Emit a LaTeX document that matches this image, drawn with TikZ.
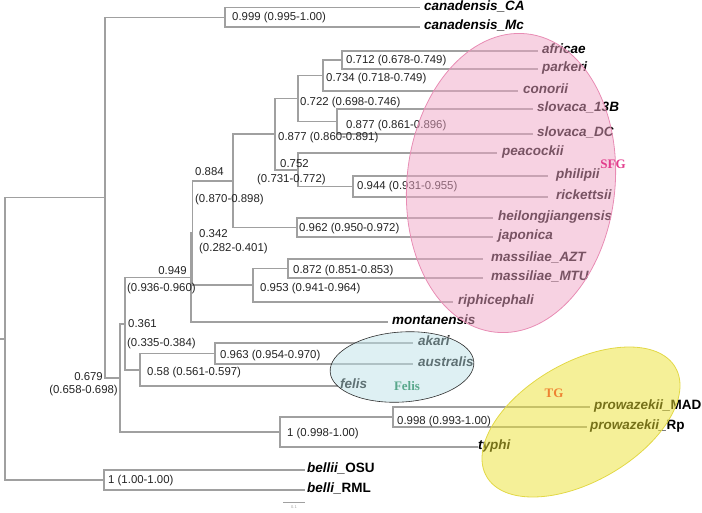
\documentclass[tikz,border=0pt]{standalone}
\usepackage{fontspec}
\setmainfont{Liberation Sans}
\newfontfamily\groupfont{Liberation Serif}
\usetikzlibrary{positioning,shapes.geometric}
\definecolor{BranchGray}{RGB}{160,160,160}
\definecolor{LabelInk}{RGB}{35,35,35}
\definecolor{SFGPink}{RGB}{240,166,198}
\definecolor{SFGEdge}{RGB}{232,140,180}
\definecolor{SFGText}{RGB}{226,60,140}
\definecolor{FelisCyan}{RGB}{190,226,232}
\definecolor{FelisEdge}{RGB}{45,45,45}
\definecolor{FelisText}{RGB}{90,168,140}
\definecolor{TGYellow}{RGB}{236,226,50}
\definecolor{TGEdge}{RGB}{226,216,70}
\definecolor{TGText}{RGB}{238,130,50}
\tikzset{
  branch/.style={draw=BranchGray,line width=1.2pt},
  leaf/.style={anchor=west,inner sep=0pt,text height=0.72em,text depth=0.16em,
    font=\fontsize{13.5}{14}\selectfont\bfseries\itshape,text=black},
  support/.style={anchor=west,inner sep=0pt,text height=0.72em,text depth=0.2em,
    font=\fontsize{11.4}{12}\selectfont,text=LabelInk},
  group/.style={ellipse,inner sep=0pt,fill opacity=0.5,line width=0.8pt},
  grouplabel/.style={font=\groupfont\fontsize{13}{14}\selectfont\bfseries,inner sep=0pt}
}

\begin{document}
\begin{tikzpicture}[x=1pt,y=-1pt]
  \useasboundingbox (0,0) rectangle (702,512);

  \coordinate (CA) at (420,7.5);
  \coordinate (Mc) at (420,27);
  \coordinate (afr) at (538,51);
  \coordinate (par) at (538,69);
  \coordinate (con) at (518,91);
  \coordinate (s13) at (533,109);
  \coordinate (sDC) at (533,134);
  \coordinate (pea) at (497,153);
  \coordinate (phi) at (548,176);
  \coordinate (ric) at (548,197);
  \coordinate (hei) at (493,218);
  \coordinate (jap) at (493,237);
  \coordinate (mAZT) at (483,259);
  \coordinate (mMTU) at (483,278);
  \coordinate (rip) at (453,302);
  \coordinate (mon) at (388,322);
  \coordinate (aka) at (413,343);
  \coordinate (aus) at (413,364);
  \coordinate (fel) at (338,386);
  \coordinate (pMAD) at (590,407);
  \coordinate (pRp) at (587,427);
  \coordinate (typ) at (478,447);
  \coordinate (bOSU) at (305,470);
  \coordinate (bRML) at (305,490);

  \coordinate (nCan) at (225,17.25);
  \coordinate (nAfr) at (342,60);
  \coordinate (nCon) at (323,75.5);
  \coordinate (nSlo) at (337,121.5);
  \coordinate (n722) at (298,98.5);
  \coordinate (nPhi) at (353,186.5);
  \coordinate (nPea) at (298,170);
  \coordinate (n877) at (275,134);
  \coordinate (nHei) at (297,227.5);
  \coordinate (n884) at (233,181);
  \coordinate (nMas) at (288,268.5);
  \coordinate (nRip) at (253,285);
  \coordinate (nP) at (192.5,233);
  \coordinate (nQ) at (191,277.5);
  \coordinate (nAka) at (215,353.5);
  \coordinate (nFel) at (140,370);
  \coordinate (n361) at (125,324);
  \coordinate (nPro) at (393,417);
  \coordinate (nTyp) at (280,432);
  \coordinate (n679) at (120,378);
  \coordinate (nA) at (105,197.5);
  \coordinate (nBel) at (104,480);
  \coordinate (root) at (5,339);
  \coordinate (stub) at (0,339);

  \draw[branch] (stub) -- (root) (root) |- (nA) (root) |- (nBel);
  \draw[branch] (nA) |- (nCan) (nA) |- (n679);
  \draw[branch] (nCan) |- (CA) (nCan) |- (Mc);
  \draw[branch] (n679) |- (n361) (n679) |- (nTyp);
  \draw[branch] (n361) |- (nQ) (n361) |- (nFel);
  \draw[branch] (nQ) |- (nP) (nQ) |- (mon);
  \draw[branch] (nP) |- (n884) (nP) |- (nRip);
  \draw[branch] (n884) |- (n877) (n884) |- (nHei);
  \draw[branch] (n877) |- (n722) (n877) |- (nPea);
  \draw[branch] (n722) |- (nCon) (n722) |- (nSlo);
  \draw[branch] (nCon) |- (nAfr) (nCon) |- (con);
  \draw[branch] (nAfr) |- (afr) (nAfr) |- (par);
  \draw[branch] (nSlo) |- (s13) (nSlo) |- (sDC);
  \draw[branch] (nPea) |- (pea) (nPea) |- (nPhi);
  \draw[branch] (nPhi) |- (phi) (nPhi) |- (ric);
  \draw[branch] (nHei) |- (hei) (nHei) |- (jap);
  \draw[branch] (nRip) |- (nMas) (nRip) |- (rip);
  \draw[branch] (nMas) |- (mAZT) (nMas) |- (mMTU);
  \draw[branch] (nFel) |- (nAka) (nFel) |- (fel);
  \draw[branch] (nAka) |- (aka) (nAka) |- (aus);
  \draw[branch] (nTyp) |- (nPro) (nTyp) |- (typ);
  \draw[branch] (nPro) |- (pMAD) (nPro) |- (pRp);
  \draw[branch] (nBel) |- (bOSU) (nBel) |- (bRML);

  \node[leaf,right=4pt of CA] (CAL) {canadensis\_CA};
  \node[leaf,right=4pt of Mc] (McL) {canadensis\_Mc};
  \node[leaf,right=4pt of afr] (afrL) {africae};
  \node[leaf,right=4pt of par] (parL) {parkeri};
  \node[leaf,right=5pt of con] (conL) {conorii};
  \node[leaf,right=4pt of s13] (s13L) {slovaca\_13B};
  \node[leaf,right=4pt of sDC] (sDCL) {slovaca\_DC};
  \node[leaf,right=5pt of pea] (peaL) {peacockii};
  \node[leaf,right=8pt of phi] (phiL) {philipii};
  \node[leaf,right=8pt of ric] (ricL) {rickettsii};
  \node[leaf,right=5pt of hei] (heiL) {heilongjiangensis};
  \node[leaf,right=5pt of jap] (japL) {japonica};
  \node[leaf,right=8pt of mAZT] (mAZTL) {massiliae\_AZT};
  \node[leaf,right=8pt of mMTU] (mMTUL) {massiliae\_MTU};
  \node[leaf,right=5pt of rip] (ripL) {riphicephali};
  \node[leaf,right=4pt of mon] (monL) {montanensis};
  \node[leaf,right=5pt of aka] (akaL) {akari};
  \node[leaf,right=5pt of aus] (ausL) {australis};
  \node[leaf,right=2pt of fel] (felL) {felis};
  \node[leaf,right=4pt of pMAD] (pMADL) {prowazekii\_\textup{MAD}};
  \node[leaf,right=3pt of pRp] (pRpL) {prowazekii\_\textup{Rp}};
  \node[leaf,right=0pt of typ] (typL) {typhi};
  \node[leaf,right=2pt of bOSU] (bOSUL) {bellii\_\textup{OSU}};
  \node[leaf,right=2pt of bRML] (bRMLL) {belli\_\textup{RML}};

  \node[support] (sCan) at (232,18) {0.999 (0.995-1.00)};
  \node[support] (sAfr) at (346,61) {0.712 (0.678-0.749)};
  \node[support] (sCon) at (326,79) {0.734 (0.718-0.749)};
  \node[support] (s722) at (300,103) {0.722 (0.698-0.746)};
  \node[support] (sSlo) at (346,126) {0.877 (0.861-0.896)};
  \node[support] (s877) at (278,138) {0.877 (0.860-0.891)};
  \node[support] (sPea) at (280,165) {0.752};
  \node[support] (sPeaB) at (257,180) {(0.731-0.772)};
  \node[support] (sPhi) at (357,187) {0.944 (0.931-0.955)};
  \node[support] (s884) at (195,173) {0.884};
  \node[support] (s884B) at (195,200) {(0.870-0.898)};
  \node[support] (sHei) at (299,229) {0.962 (0.950-0.972)};
  \node[support] (sP) at (199,235) {0.342};
  \node[support] (sPB) at (199,249) {(0.282-0.401)};
  \node[support] (sMas) at (293,271) {0.872 (0.851-0.853)};
  \node[support] (sRip) at (260,289) {0.953 (0.941-0.964)};
  \node[support,anchor=east] (sQ) at (187,272) {0.949};
  \node[support] (sQB) at (127,289) {(0.936-0.960)};
  \node[support] (s361) at (128,325) {0.361};
  \node[support] (s361B) at (127,344) {(0.335-0.384)};
  \node[support] (sAka) at (220,356) {0.963 (0.954-0.970)};
  \node[support] (sFel) at (147,373) {0.58 (0.561-0.597)};
  \node[support,anchor=east] (s679) at (103,378) {0.679};
  \node[support,anchor=east] (s679B) at (118,391) {(0.658-0.698)};
  \node[support] (sPro) at (397,422) {0.998 (0.993-1.00)};
  \node[support] (sTyp) at (287,434) {1 (0.998-1.00)};
  \node[support] (sBel) at (108,481) {1 (1.00-1.00)};

  \coordinate (bar0) at (283,502);
  \coordinate (bar1) at (305,502);
  \draw[branch,line width=0.8pt] (bar0) -- (bar1);
  \node[inner sep=0pt,font=\fontsize{4}{4}\selectfont,text=BranchGray,below=3pt of bar0,xshift=11pt] (barL) {0.1};

  \node[group,fill=SFGPink,draw=SFGEdge,minimum width=208pt,minimum height=300pt,rotate=-6] (sfg) at (511,183) {};
  \node[group,fill=FelisCyan,draw=FelisEdge,line width=0.6pt,minimum width=144pt,minimum height=70pt,rotate=4] (felis) at (402,367) {};
  \node[group,fill=TGYellow,draw=TGEdge,minimum width=218pt,minimum height=119pt,rotate=30] (tg) at (581,422) {};

  \node[grouplabel,text=SFGText] (sfgL) at (613,164) {SFG};
  \node[grouplabel,text=FelisText] (felisL) at (407,386) {Felis};
  \node[grouplabel,text=TGText] (tgL) at (554,393) {TG};
\end{tikzpicture}
\end{document}
